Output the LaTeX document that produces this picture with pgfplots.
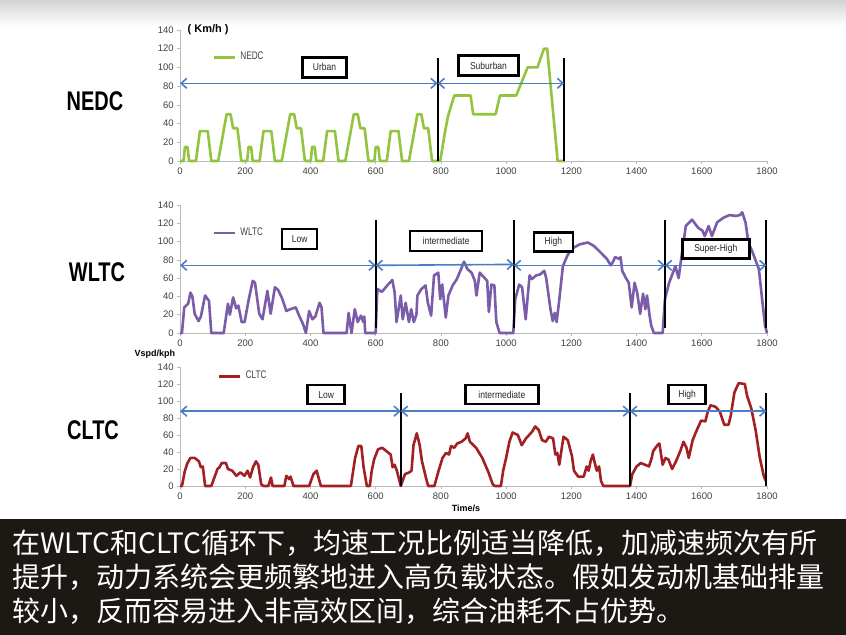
\documentclass[border=0pt]{standalone}
\usepackage{fontspec}
\setmainfont{Liberation Sans}
\newfontfamily\cjk{Noto Sans CJK SC}
\newfontfamily\cond[FakeStretch=0.74]{Liberation Sans}
\newfontfamily\boxfont[FakeStretch=0.85]{Liberation Sans}
\usepackage{pgfplots}
\pgfplotsset{compat=1.18}
\usetikzlibrary{arrows.meta}
\definecolor{nedc}{RGB}{146,196,64}
\definecolor{wltc}{RGB}{122,92,168}
\definecolor{cltc}{RGB}{162,32,36}
\definecolor{arrowblue}{RGB}{74,126,196}
\definecolor{banner}{RGB}{28,24,20}
\definecolor{tickgray}{RGB}{64,64,64}
\tikzset{phasebox/.style={draw=black, line width=1.2pt, fill=white, inner sep=0pt, font=\fontsize{5}{6}\selectfont\boxfont, text=black!85}}
\pgfplotsset{
  cyc/.style={
    scale only axis, width=293.5pt,
    xmin=0, xmax=1800, ymin=0, ymax=140,
    axis x line*=bottom, axis y line*=left,
    axis line style={draw=gray!55, line width=0.4pt},
    xtick={0,200,...,1800}, ytick={0,20,...,140},
    tick style={draw=gray!55, line width=0.3pt},
    major tick length=1.5pt, tick align=outside,
    tick label style={font=\fontsize{4.75}{5.5}\selectfont, text=tickgray, inner sep=1.5pt},
    /pgf/number format/assume math mode=true,
    /pgf/number format/1000 sep={},
    clip=false,
    legend style={draw=none, fill=none, font=\fontsize{5.5}{6.5}\selectfont\cond, text=tickgray, anchor=west, inner sep=0pt, outer sep=0pt},
    legend image code/.code={\draw[##1, line width=1.3pt] (0pt,0pt) -- (10.5pt,0pt);},
  },
  curve/.style={line width=1.3pt, line join=round, no markers},
  vbar/.style={black, line width=1.1pt, no markers, forget plot},
  dblarrow/.style={arrowblue, line width=0.8pt, no markers, forget plot, {Straight Barb[length=2.8pt,width=5pt]}-{Straight Barb[length=2.8pt,width=5pt]}},
}
\begin{document}
\begin{tikzpicture}
\useasboundingbox (0,0) rectangle (423pt,-317.5pt);
\fill[white] (0,0) rectangle (423pt,-317.5pt);
\shade[top color=black!17, bottom color=white] (0,0) rectangle (423pt,-13pt);
\fill[banner] (0,-259.5pt) rectangle (423pt,-317.5pt);

% left labels
\node[font=\fontsize{13.5}{15}\selectfont\cond\bfseries] at (47.5pt,-50.5pt) {NEDC};
\node[font=\fontsize{13.5}{15}\selectfont\cond\bfseries] at (48.5pt,-136pt) {WLTC};
\node[font=\fontsize{13.5}{15}\selectfont\cond\bfseries] at (46.5pt,-215pt) {CLTC};

% ---------------- NEDC ----------------
\begin{axis}[cyc, height=65.5pt, at={(90pt,-80.5pt)}, anchor=origin,
  legend style={at={(rel axis cs:0.056,0.79)}}]
\addplot[curve, nedc] coordinates {
(0,0) (11,0) (15,15) (23,15) (28,0) (49,0) (61,32) (85,32) (96,0) (117,0) (143,50) (155,50) (163,35) (176,35) (188,0) (195,0)
(206,0) (210,15) (218,15) (223,0) (244,0) (256,32) (280,32) (291,0) (312,0) (338,50) (350,50) (358,35) (371,35) (383,0) (390,0)
(401,0) (405,15) (413,15) (418,0) (439,0) (451,32) (475,32) (486,0) (507,0) (533,50) (545,50) (553,35) (566,35) (578,0) (585,0)
(596,0) (600,15) (608,15) (613,0) (634,0) (646,32) (670,32) (681,0) (702,0) (728,50) (740,50) (748,35) (761,35) (773,0) (780,0)
(798,0) (812,30) (822,48) (841,70) (891,70) (899,50) (968,50) (981,70) (1031,70) (1066,100) (1096,100) (1116,120) (1126,120) (1158,0) (1180,0)
};
\addlegendentry{NEDC}
\addplot[vbar] coordinates {(790,0) (790,110)};
\addplot[vbar] coordinates {(1178,0) (1178,110)};
\addplot[dblarrow] coordinates {(0,83) (790,83)};
\addplot[dblarrow] coordinates {(790,83) (1178,83)};
\node[phasebox, minimum width=22pt, minimum height=10pt] at (axis cs:443,100) {Urban};
\node[phasebox, minimum width=30pt, minimum height=10pt] at (axis cs:946,102) {Suburban};
\node[anchor=west, font=\fontsize{5.5}{6.5}\selectfont\bfseries] at (axis cs:2,140) {( Km/h )};
\end{axis}

% ---------------- WLTC ----------------
\begin{axis}[cyc, height=64pt, at={(90pt,-166.5pt)}, anchor=origin,
  legend style={at={(rel axis cs:0.056,0.78)}}]
\addplot[curve, wltc] coordinates {
(0,0) (6,0) (13,28) (25,32) (32,44) (38,40) (45,21) (57,13) (64,18) (77,41) (89,35) (96,0) (134,0)
(147,32) (153,20) (163,39) (172,27) (179,30) (189,12) (198,12) (211,37) (223,57) (230,55) (243,21) (253,15)
(268,46) (278,21) (291,50) (301,47) (313,38) (326,24) (338,26) (355,28) (364,20) (377,10) (386,0)
(396,24) (406,15) (415,18) (428,33) (434,28) (440,0) (511,0) (517,22) (526,0) (536,26) (545,12) (555,19) (562,12) (565,18) (568,0) (600,0)
(604,40) (606,48) (619,45) (638,53) (651,58) (658,45) (664,12) (677,41) (683,15) (692,33) (702,12) (709,26) (717,12) (725,20)
(728,41) (740,48) (753,52) (760,33) (770,19) (779,63) (792,66) (798,37) (804,53) (815,17) (823,41) (836,52) (849,59) (862,70)
(871,78) (881,70) (894,66) (904,57) (909,41) (919,66) (932,61) (942,57) (947,23) (955,53) (964,52) (970,12) (980,0) (1022,0)
(1028,37) (1040,53) (1049,50) (1060,15) (1072,63) (1079,59) (1092,63) (1104,64) (1117,68) (1123,60) (1136,26) (1143,13) (1149,22) (1155,12)
(1162,33) (1174,73) (1187,84) (1200,92) (1226,97) (1251,99) (1270,95) (1290,88) (1309,81) (1321,74) (1328,78) (1334,83) (1347,81) (1351,83)
(1356,68) (1366,61) (1376,55) (1385,28) (1394,55) (1402,44) (1411,21) (1420,43) (1427,26) (1432,41) (1440,19) (1445,8) (1453,0) (1480,0)
(1487,37) (1500,55) (1519,73) (1529,60) (1538,84) (1551,117) (1570,124) (1589,115) (1602,112) (1609,106) (1621,117) (1631,106)
(1647,121) (1666,126) (1685,129) (1705,128) (1717,129) (1724,132) (1734,121) (1743,99) (1756,88) (1775,70) (1785,37) (1794,8) (1800,0)
};
\addlegendentry{WLTC}
\addplot[vbar] coordinates {(600,5) (600,124)};
\addplot[vbar] coordinates {(1024,5) (1024,124)};
\addplot[vbar] coordinates {(1487,5) (1487,124)};
\addplot[vbar] coordinates {(1798,5) (1798,124)};
\addplot[dblarrow] coordinates {(0,74) (600,74)};
\addplot[dblarrow] coordinates {(600,74) (1024,75)};
\addplot[dblarrow] coordinates {(1024,74) (1487,74)};
\addplot[dblarrow] coordinates {(1487,74) (1798,74)};
\node[phasebox, minimum width=17.5pt, minimum height=10pt] at (axis cs:367,103) {Low};
\node[phasebox, minimum width=36pt, minimum height=10pt] at (axis cs:816,100.5) {intermediate};
\node[phasebox, minimum width=19.5pt, minimum height=9.5pt] at (axis cs:1145,99.5) {High};
\node[phasebox, minimum width=33.5pt, minimum height=9.5pt] at (axis cs:1643,92) {Super-High};
\end{axis}

% ---------------- CLTC ----------------
\begin{axis}[cyc, height=59.5pt, at={(90pt,-243pt)}, anchor=origin,
  legend style={at={(rel axis cs:0.065,0.92)}}]
\addplot[curve, cltc] coordinates {
(0,0) (6,0) (15,18) (23,27) (32,33) (45,33) (58,29) (64,22) (70,23) (77,0) (96,0) (115,20) (121,22) (128,27) (141,27) (147,20)
(160,18) (173,12) (185,16) (198,12) (207,18) (215,10) (224,22) (233,29) (240,25) (249,2) (256,0) (271,0) (279,10) (284,0)
(320,0) (326,12) (335,8) (339,11) (348,0) (396,0) (409,14) (419,18) (432,0) (524,0) (537,33) (547,47) (556,47) (563,22) (573,0)
(582,0) (588,18) (595,31) (607,43) (620,45) (633,41) (646,37) (652,22) (658,25) (665,18) (677,0)
(690,14) (703,16) (710,18) (716,48) (726,62) (735,48) (742,29) (754,10) (761,0) (780,0) (793,18) (805,33) (816,39) (825,37)
(831,47) (841,45) (850,50) (863,52) (876,56) (882,62) (889,52) (908,45) (927,33) (946,16) (959,2) (965,0) (984,0)
(991,18) (1000,33) (1010,52) (1020,63) (1036,60) (1048,48) (1061,56) (1080,64) (1089,70) (1100,66) (1110,54) (1122,52) (1131,58)
(1144,56) (1151,37) (1157,39) (1163,25) (1176,58) (1189,54) (1202,35) (1208,18) (1221,11) (1238,11) (1247,23) (1253,18) (1259,29)
(1266,37) (1272,27) (1278,18) (1285,23) (1291,6) (1298,0) (1380,0)
(1387,14) (1400,23) (1413,27) (1426,25) (1438,23) (1445,31) (1451,41) (1464,48) (1470,50) (1480,25) (1489,33) (1498,31) (1509,20)
(1521,29) (1534,41) (1544,52) (1553,45) (1560,33) (1572,54) (1585,66) (1598,77) (1611,76) (1618,87) (1627,95) (1643,93) (1656,87)
(1669,72) (1682,72) (1689,83) (1700,110) (1713,121) (1732,120) (1739,106) (1752,91) (1765,66) (1778,33) (1790,12) (1796,6)
};
\addlegendentry{CLTC}
\addplot[vbar] coordinates {(677,0) (677,109)};
\addplot[vbar] coordinates {(1380,0) (1380,109)};
\addplot[vbar] coordinates {(1798,0) (1798,109)};
\addplot[dblarrow] coordinates {(0,88) (677,88)};
\addplot[dblarrow] coordinates {(677,88) (1380,88)};
\addplot[dblarrow] coordinates {(1380,88) (1798,88)};
\node[phasebox, minimum width=18.5pt, minimum height=9.5pt] at (axis cs:448,107.5) {Low};
\node[phasebox, minimum width=36.5pt, minimum height=9.5pt] at (axis cs:987,107.5) {intermediate};
\node[phasebox, minimum width=18.5pt, minimum height=9.5pt] at (axis cs:1555,107.5) {High};
\node[font=\fontsize{4.5}{5.5}\selectfont\bfseries] at (axis cs:-77,155) {Vspd/kph};
\node[font=\fontsize{4.5}{5.5}\selectfont\bfseries] at (axis cs:877,-26) {Time/s};
\end{axis}

% banner text
\begin{scope}[every node/.style={anchor=west, text=white, font=\fontsize{14}{17}\selectfont\cjk, inner sep=0pt}]
\node at (6pt,-271.5pt) {在WLTC和CLTC循环下，均速工况比例适当降低，加减速频次有所};
\node at (6pt,-288.5pt) {提升，动力系统会更频繁地进入高负载状态。假如发动机基础排量};
\node at (6pt,-305.5pt) {较小，反而容易进入非高效区间，综合油耗不占优势。};
\end{scope}
\end{tikzpicture}
\end{document}
